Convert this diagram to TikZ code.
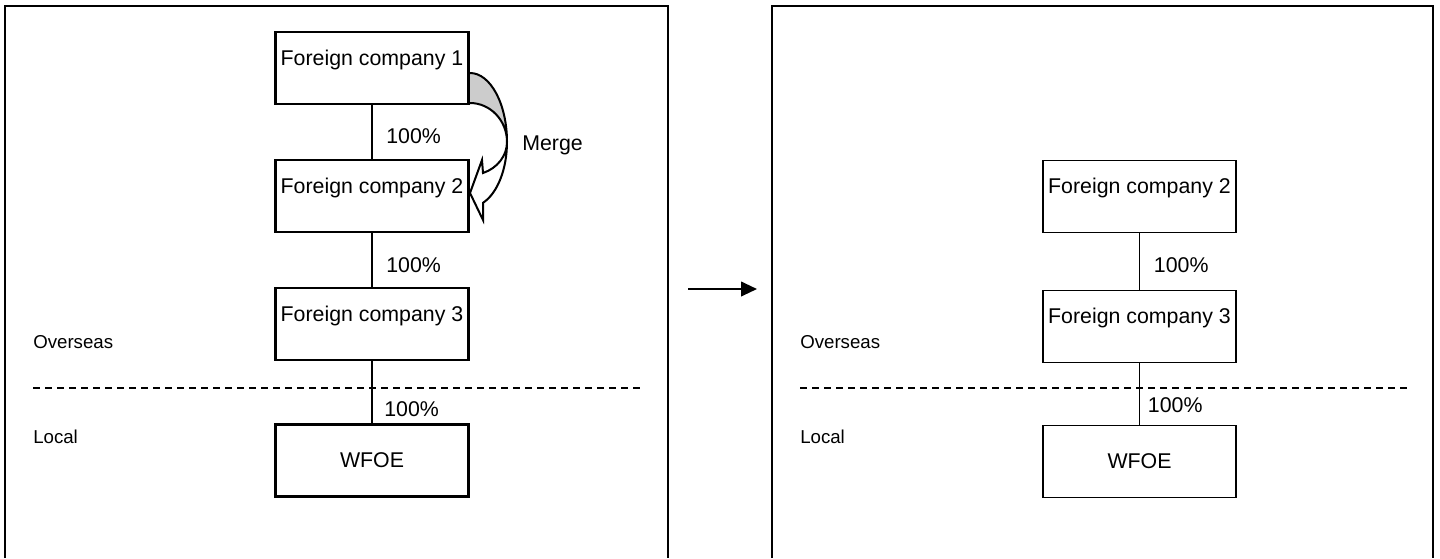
\documentclass[tikz,border=0pt]{standalone}
\usepackage{fontspec}
\setmainfont{Liberation Sans}
\usetikzlibrary{arrows.meta}
\tikzset{
	cobox/.style={draw, rectangle, inner sep=0pt, minimum width=144.75pt, text height=24.75pt, text depth=29.25pt, font=\fontsize{16}{19}\selectfont},
	wfbox/.style={draw, rectangle, inner sep=0pt, minimum width=144.75pt, minimum height=54pt, font=\fontsize{16}{19}\selectfont},
	pct/.style={anchor=west, inner sep=0pt, font=\fontsize{16}{19}\selectfont},
	zone/.style={anchor=west, inner sep=0pt, font=\fontsize{14}{17}\selectfont},
	cut/.style={dash pattern=on 5.25pt off 3.75pt}
}
\begin{document}
\begin{tikzpicture}[x=0.75pt, y=-0.75pt]
	\useasboundingbox (0,0) rectangle (1440,558);
	\begin{scope}[line width=2pt]
		\draw (5,558)--(5,6)--(668,6)--(668,558);
		\node[cobox] (fca) at (372,68) {Foreign company 1};
		\node[cobox] (fcb) at (372,196) {Foreign company 2};
		\node[cobox] (fcc) at (372,324) {Foreign company 3};
		\node[wfbox] (wfoe) at (372,460.5) {WFOE};
		\draw (fca) -- (fcb);
		\draw (fcb) -- (fcc);
		\draw[cut] (33,388) -- (643,388);
		\draw (fcc) -- (wfoe);
		\node[pct] (pa) at (385,136) {100\%};
		\node[pct] (pb) at (385,265) {100\%};
		\node[pct] (pc) at (383,409) {100\%};
	\end{scope}
	\filldraw[fill=black!20, line width=1.5pt] (470,73) .. controls (490.4,73) and (507,103.9) .. (507,142) .. controls (507,120.5) and (490.4,103) .. (470,103);
	\filldraw[fill=white, line width=1.5pt] (507,142) .. controls (507,169.1) and (497.4,193.4) .. (483,202.8) -- (483,220) -- (470,193) -- (482,160) -- (483,173) .. controls (497.4,168.1) and (507,155.8) .. (507,142) -- cycle;
	\node[pct] (merge) at (522,145) {Merge};
	\coordinate (arrs) at (688,289);
	\coordinate (arre) at (757,289);
	\draw[line width=1.5pt, -{Triangle[length=12pt,width=11pt]}] (arrs) -- (arre);
	\begin{scope}[line width=1.4pt]
		\draw (772,558)--(772,6)--(1433,6)--(1433,558);
		\node[cobox] (rfcb) at (1139.5,196.5) {Foreign company 2};
		\node[cobox] (rfcc) at (1139.5,326.5) {Foreign company 3};
		\node[wfbox] (rwfoe) at (1139.5,461.5) {WFOE};
		\draw (rfcb) -- (rfcc);
		\draw[cut, line width=1.2pt] (800,388) -- (1408,388);
		\draw (rfcc) -- (rwfoe);
		\node[pct] (rpa) at (1153,265) {100\%};
		\node[pct] (rpb) at (1147,405) {100\%};
	\end{scope}
	\foreach \xo in {33,800}{
		\node[zone] (ov\xo) at (\xo,342) {Overseas};
		\node[zone] (lo\xo) at (\xo,437) {Local};}
\end{tikzpicture}
\end{document}
